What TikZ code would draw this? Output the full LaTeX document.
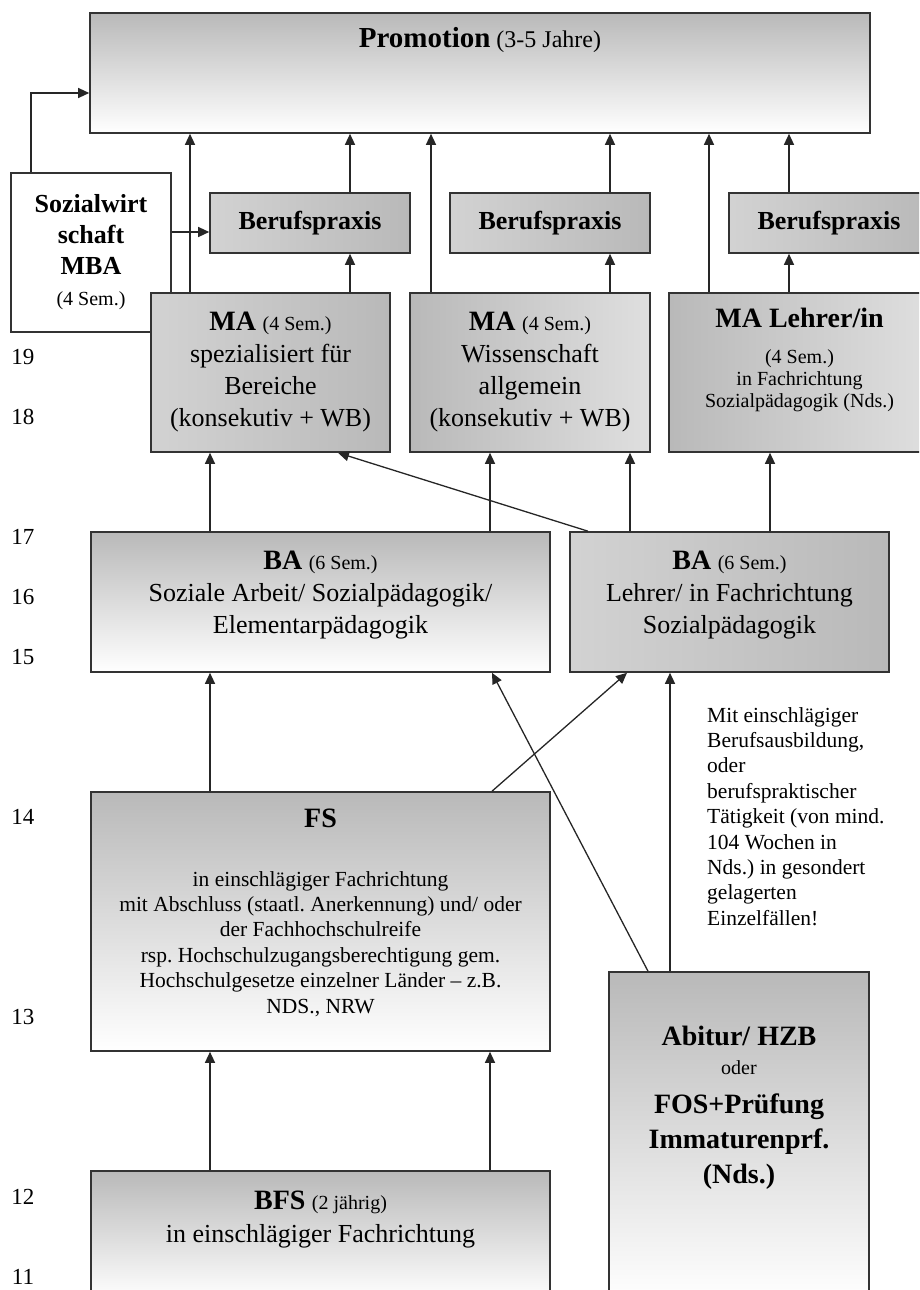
\documentclass[tikz,border=0pt]{standalone}
\usepackage{fontspec}
\setmainfont{Liberation Serif}
\usetikzlibrary{arrows.meta}

\newcommand{\hdr}[1]{{\fontsize{28}{32}\selectfont\bfseries #1}}
\newcommand{\sml}[1]{{\fontsize{20}{23}\selectfont #1}}

\tikzset{
  box/.style={draw=black!80, line width=1.6pt, inner sep=0pt, align=center, font=\fontsize{26}{32}\selectfont},
  vshade/.style={top color=gray!55, bottom color=white},
  hshade/.style={left color=gray!35, middle color=gray!2, right color=gray!55},
  lshade/.style={left color=gray!55, middle color=gray!5, right color=gray!25},
  arr/.style={-{Triangle[length=11pt,width=10pt]}, line width=1.3pt, draw=black!85},
  yr/.style={font=\fontsize{23}{24}\selectfont, inner sep=0pt},
  txt/.style={inner sep=0pt, align=center}
}

\begin{document}
\frenchspacing
\begin{tikzpicture}[x=1pt,y=-1pt]
\useasboundingbox (0,0) rectangle (919,1290);
\clip (0,0) rectangle (919,1290);

% years
\foreach \yy/\lab in {357/19,417/18,537/17,597/16,657/15,817/14,1017/13,1197/12,1277/11}
  \node[yr] (y\lab) at (23,\yy) {\lab};

% top
\node[box, vshade, minimum width=780pt, minimum height=120pt] (promo) at (480,73) {};
\node[txt] (promo-t) at (480,40) {{\fontsize{29}{32}\selectfont\bfseries Promotion}{\fontsize{24}{28}\selectfont\ (3-5 Jahre)}};

\node[box, fill=white, minimum width=160pt, minimum height=159pt, font=\fontsize{26}{31}\selectfont\bfseries] (smba) at (91,252.5)
  {Sozialwirt\\schaft\\MBA\\\sml{\mdseries(4 Sem.)}};

% Berufspraxis
\node[box, hshade, minimum width=200pt, minimum height=60pt, font=\fontsize{26}{30}\selectfont\bfseries] (bp1) at (310,223) {Berufspraxis};
\node[box, hshade, minimum width=200pt, minimum height=60pt, font=\fontsize{26}{30}\selectfont\bfseries] (bp2) at (550,223) {Berufspraxis};
\node[box, hshade, minimum width=200pt, minimum height=60pt, font=\fontsize{26}{30}\selectfont\bfseries] (bp3) at (829,223) {Berufspraxis};

% MA
\node[box, hshade, minimum width=239pt, minimum height=159pt] (ma1) at (270.5,372.5)
  {\hdr{MA} \sml{(4 Sem.)}\\spezialisiert für\\Bereiche\\(konsekutiv + WB)};
\node[box, lshade, minimum width=240pt, minimum height=159pt] (ma2) at (530,372.5)
  {\hdr{MA} \sml{(4 Sem.)}\\Wissenschaft\\allgemein\\(konsekutiv + WB)};
\node[box, lshade, minimum width=261pt, minimum height=159pt] (ma3) at (799.5,372.5) {};
\node[txt, anchor=north, font=\fontsize{20}{22}\selectfont] (ma3-t) at (799.5,308)
  {\hdr{MA Lehrer/in}\\[14pt](4 Sem.)\\in Fachrichtung\\Sozialpädagogik (Nds.)};

% BA
\node[box, vshade, minimum width=459pt, minimum height=140pt] (ba1) at (320.5,602) {};
\node[txt, anchor=north, font=\fontsize{26}{32}\selectfont] (ba1-t) at (320.5,551)
  {\hdr{BA} \sml{(6 Sem.)}\\Soziale Arbeit/ Sozialpädagogik/\\Elementarpädagogik};
\node[box, hshade, minimum width=319pt, minimum height=140pt] (ba2) at (729.5,602) {};
\node[txt, anchor=north, font=\fontsize{26}{32}\selectfont] (ba2-t) at (729.5,551)
  {\hdr{BA} \sml{(6 Sem.)}\\Lehrer/ in Fachrichtung\\Sozialpädagogik};

% FS
\node[box, vshade, minimum width=459pt, minimum height=259pt] (fs) at (320.5,921.5) {};
\node[txt, anchor=north, font=\fontsize{21.5}{25.4}\selectfont] (fs-t) at (320.5,809)
  {\hdr{FS}\\[33pt]in einschlägiger Fachrichtung\\mit Abschluss (staatl. Anerkennung) und/ oder\\der Fachhochschulreife\\rsp. Hochschulzugangsberechtigung gem.\\Hochschulgesetze einzelner Länder – z.B.\\NDS., NRW};

\node[txt, anchor=north west, align=left, font=\fontsize{21.5}{25.4}\selectfont] (note) at (707,707)
  {Mit einschlägiger\\Berufsausbildung,\\oder\\berufspraktischer\\Tätigkeit (von mind.\\104 Wochen in\\Nds.) in gesondert\\gelagerten\\Einzelfällen!};

% bottom
\node[box, vshade, minimum width=260pt, minimum height=328pt] (abi) at (739,1136) {};
\node[txt, anchor=north, font=\fontsize{28}{35}\selectfont\bfseries] (abi-t) at (739,1026)
  {Abitur/ HZB\\[-6pt]\sml{\mdseries oder}\\[4pt]FOS+Prüfung\\Immaturenprf.\\(Nds.)};
\node[box, vshade, minimum width=459pt, minimum height=129pt] (bfs) at (320.5,1235.5) {};
\node[txt, anchor=north, font=\fontsize{26}{33}\selectfont] (bfs-t) at (320.5,1191)
  {\hdr{BFS} \sml{(2 jährig)}\\in einschlägiger Fachrichtung};

% arrows to the top
\draw[arr] ([xshift=-60pt]smba.north) |- ([yshift=-20pt]promo.west);
\draw[arr] ([yshift=20.5pt]smba.east) -- ([yshift=20.5pt]smba.east -| bp1.west);
\draw[arr] ([xshift=-80.5pt]ma1.north) -- ([xshift=-80.5pt]ma1.north |- promo.south);
\draw[arr] ([xshift=40pt]bp1.south |- ma1.north) -- ([xshift=40pt]bp1.south);
\draw[arr] ([xshift=40pt]bp1.north) -- ([xshift=40pt]bp1.north |- promo.south);
\draw[arr] ([xshift=-99pt]ma2.north) -- ([xshift=-99pt]ma2.north |- promo.south);
\draw[arr] ([xshift=60pt]bp2.south |- ma2.north) -- ([xshift=60pt]bp2.south);
\draw[arr] ([xshift=60pt]bp2.north) -- ([xshift=60pt]bp2.north |- promo.south);
\draw[arr] ([xshift=-90.5pt]ma3.north) -- ([xshift=-90.5pt]ma3.north |- promo.south);
\draw[arr] ([xshift=-40pt]bp3.south |- ma3.north) -- ([xshift=-40pt]bp3.south);
\draw[arr] ([xshift=-40pt]bp3.north) -- ([xshift=-40pt]bp3.north |- promo.south);

% BA to MA
\draw[arr] ([xshift=-110.5pt]ba1.north) -- ([xshift=-110.5pt]ba1.north |- ma1.south);
\draw[arr] ([xshift=169.5pt]ba1.north) -- ([xshift=169.5pt]ba1.north |- ma2.south);
\draw[arr] ([xshift=-99.5pt]ba2.north) -- ([xshift=-99.5pt]ba2.north |- ma2.south);
\draw[arr] ([xshift=40.5pt]ba2.north) -- ([xshift=40.5pt]ba2.north |- ma3.south);
\draw[arr] ([xshift=-141.5pt]ba2.north) -- ([xshift=67.5pt]ma1.south);

% lower part
\draw[arr] ([xshift=-110.5pt]fs.north) -- ([xshift=-110.5pt]ba1.south);
\draw[arr] ([xshift=171.5pt]fs.north) -- ([xshift=-102.5pt]ba2.south);
\draw[arr] ([xshift=-91pt]abi.north) -- ([xshift=171.5pt]ba1.south);
\draw[arr] ([xshift=-69pt]abi.north) -- ([xshift=-69pt]abi.north |- ba2.south);
\draw[arr] ([xshift=-110.5pt]bfs.north) -- ([xshift=-110.5pt]fs.south);
\draw[arr] ([xshift=169.5pt]bfs.north) -- ([xshift=169.5pt]fs.south);

\end{tikzpicture}
\end{document}
